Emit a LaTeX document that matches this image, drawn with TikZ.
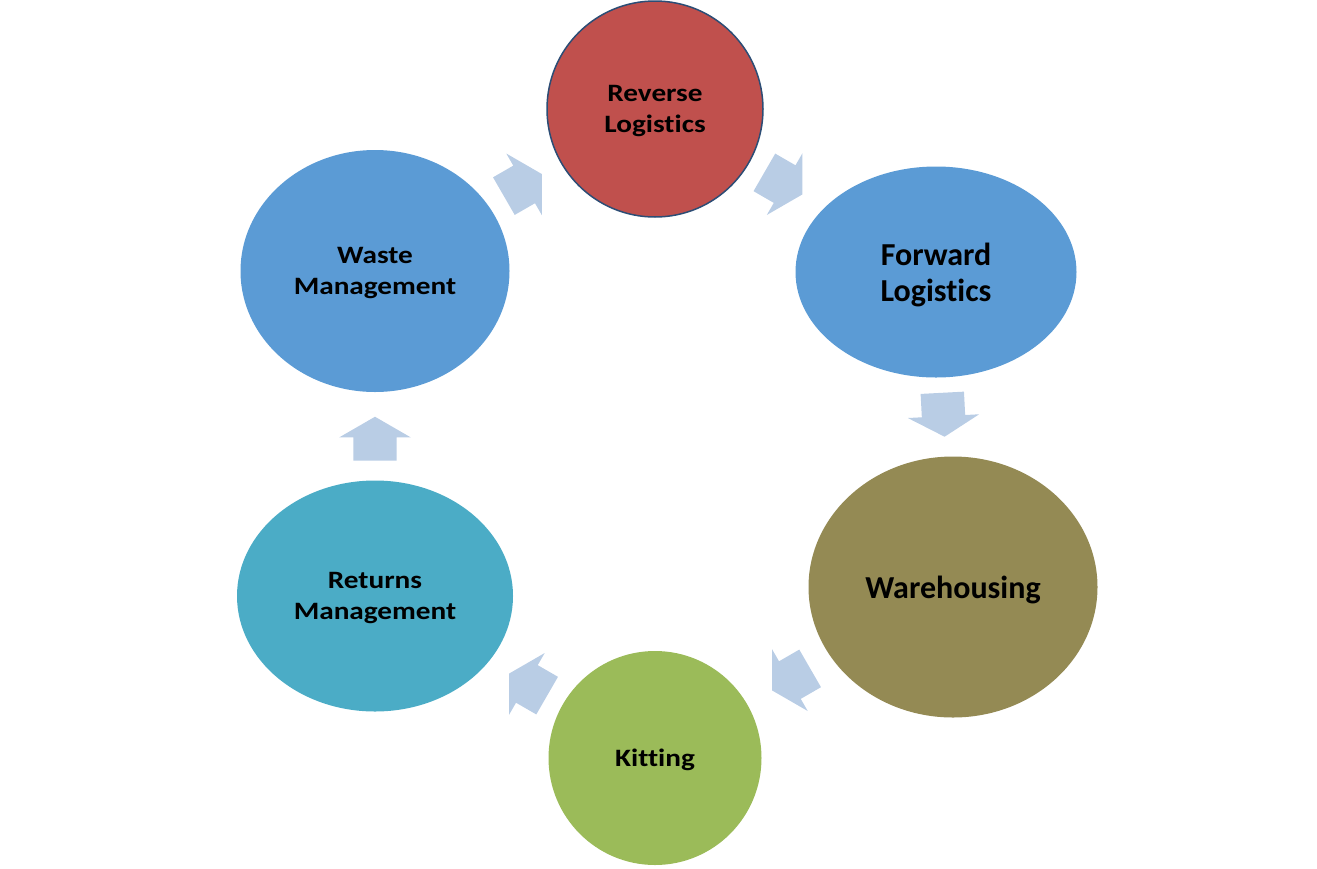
\documentclass[tikz,border=0pt]{standalone}
\usepackage{fontspec}
\setmainfont{Carlito}[Ligatures=NoCommon]
\newfontfamily\widefont{Carlito}[FakeStretch=1.17, Ligatures=NoCommon]
\usetikzlibrary{shapes.geometric}
\usetikzlibrary{shapes.arrows}
\definecolor{arrowblue}{HTML}{B9CDE5}
\definecolor{stageblue}{HTML}{5B9BD5}
\definecolor{reversered}{HTML}{C0504D}
\definecolor{reverseborder}{HTML}{2C4D75}
\definecolor{wareolive}{HTML}{948A54}
\definecolor{kittinggreen}{HTML}{9BBB59}
\definecolor{returnsteal}{HTML}{4BACC6}
\tikzset{
	stage/.style={ellipse, inner sep=0pt, align=center, text depth=0pt, font=\widefont\bfseries\fontsize{25}{31}\selectfont},
	bigstage/.style={stage, font=\bfseries\fontsize{32}{36}\selectfont},
	cyclearrow/.style={single arrow, fill=arrowblue, inner xsep=0pt, inner ysep=21.5pt, minimum height=44pt, single arrow head extend=14pt, single arrow tip angle=120}
}

\begin{document}
\begin{tikzpicture}[x=1pt, y=-1pt]
\useasboundingbox (0,0) rectangle (1317,868);

\node[stage, fill=reversered, draw=reverseborder, line width=1.5pt, minimum width=216pt, minimum height=216pt] (reverse) at (655,109)
	{Reverse\\Logistics};

\node[bigstage, fill=stageblue, minimum width=281pt, minimum height=211pt] (forward) at (936,272)
	{Forward\\Logistics};

\node[bigstage, fill=wareolive, minimum width=289pt, minimum height=261pt] (warehousing) at (953,587)
	{Warehousing};

\node[stage, fill=kittinggreen, minimum width=213pt, minimum height=214pt] (kitting) at (655,758)
	{Kitting};

\node[stage, fill=returnsteal, minimum width=276pt, minimum height=231pt] (returns) at (375,596)
	{Returns\\Management};

\node[stage, fill=stageblue, minimum width=269pt, minimum height=242pt] (waste) at (375,271)
	{Waste\\Management};

\node[cyclearrow, rotate=30] (wastetoreverse) at (517.5,188.25) {};
\node[cyclearrow, rotate=-30] (reversetoforward) at (778,180.25) {};
\node[cyclearrow, rotate=-87] (forwardtoware) at (943.1,408.5) {};
\node[cyclearrow, rotate=210] (waretokitting) at (796.5,676.25) {};
\node[cyclearrow, rotate=150] (kittingtoreturns) at (533.5,687.75) {};
\node[cyclearrow, rotate=90] (returnstowaste) at (375,445) {};

\end{tikzpicture}
\end{document}
